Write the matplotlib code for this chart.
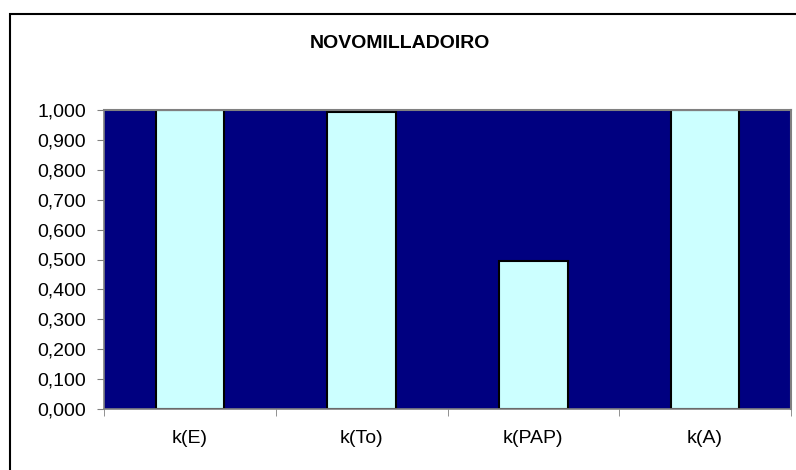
import matplotlib.pyplot as plt
from matplotlib.patches import Rectangle
from matplotlib.ticker import FuncFormatter

plt.rcParams['font.family'] = ['Liberation Sans', 'DejaVu Sans']

categories = ['k(E)', 'k(To)', 'k(PAP)', 'k(A)']
values = [1.000, 0.993, 0.496, 1.000]
title = 'NOVOMILLADOIRO'

W, H = 796, 470
fig = plt.figure(figsize=(W / 100, H / 100), dpi=100)

# outer chart frame (runs off the right and bottom edge)
fig.patches.append(Rectangle((10 / W, -0.1), 1.2, (H - 14) / H + 0.1,
                             transform=fig.transFigure, fill=False,
                             edgecolor='black', linewidth=1.5))

ax = fig.add_axes([104 / W, 1 - 409 / H, (791 - 104) / W, (409 - 110) / H])
ax.set_facecolor('#000080')
x = range(len(categories))
ax.bar(x, values, width=0.4, color='#CCFFFF', edgecolor='black', linewidth=1.5)

ax.set_xlim(-0.5, len(categories) - 0.5)
ax.set_ylim(0, 1.0)
ax.set_yticks([i / 10 for i in range(11)])
ax.yaxis.set_major_formatter(FuncFormatter(lambda v, p: f'{v:.3f}'.replace('.', ',')))
ax.set_xticks(list(x))
ax.set_xticklabels(categories)
ax.set_xticks([i - 0.5 for i in range(len(categories) + 1)], minor=True)
ax.tick_params(axis='x', which='major', length=0, pad=15, labelsize=14)
ax.tick_params(axis='x', which='minor', length=5, color='#808080')
ax.tick_params(axis='y', length=5, color='#808080', labelsize=14, pad=8)

for side in ['top', 'right']:
    ax.spines[side].set_color('#808080')
    ax.spines[side].set_linewidth(1.5)
for side in ['left', 'bottom']:
    ax.spines[side].set_color('#808080')
    ax.spines[side].set_linewidth(1.2)

fig.text(400 / W, 1 - 43 / H, title, ha='center', va='center',
         fontsize=14, fontweight='bold')

fig.savefig('out.png', dpi=100)
